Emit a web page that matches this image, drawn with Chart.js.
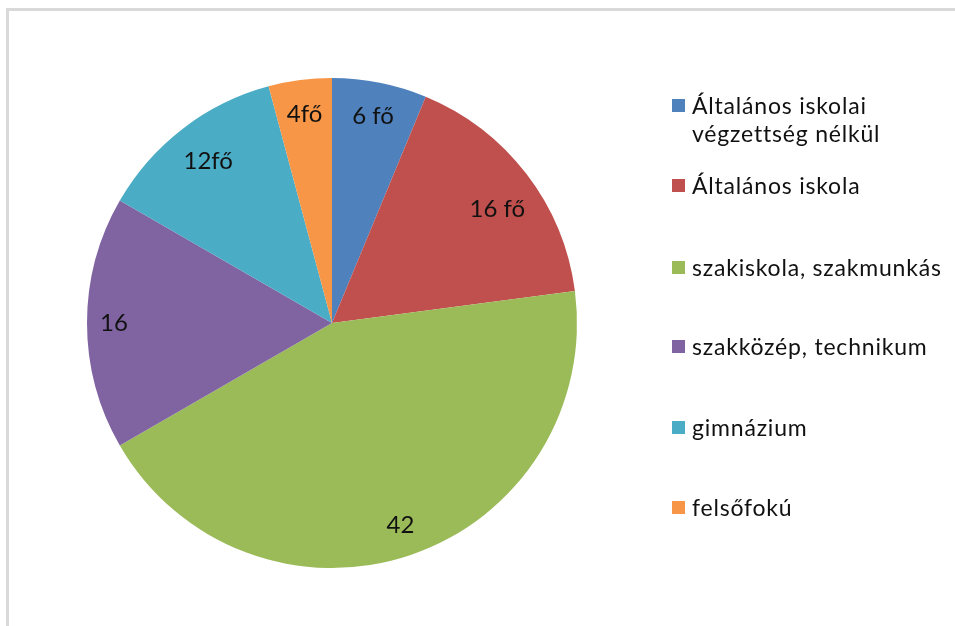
<!DOCTYPE html>
<html>
<head>
<meta charset="utf-8">
<script src="https://cdn.jsdelivr.net/npm/chart.js@4.4.1/dist/chart.umd.min.js"></script>
<style>
  html, body { margin: 0; padding: 0; background: #fff; }
  #wrap { position: relative; width: 955px; height: 626px; }
  #frame { position: absolute; left: 6px; top: 8px; right: 0; bottom: 0;
           border-left: 3px solid #d9d9d9; border-top: 3px solid #d9d9d9; }
  canvas { position: absolute; left: 0; top: 0; }
</style>
</head>
<body>
<div id="wrap">
  <div id="frame"></div>
  <canvas id="myChart" width="955" height="626"></canvas>
</div>
<script>
// végzettség szerinti megoszlás (fő)
const categories = [
    ['Általános iskolai', 'végzettség nélkül'],
    ['Általános iskola'],
    ['szakiskola, szakmunkás'],
    ['szakközép, technikum'],
    ['gimnázium'],
    ['felsőfokú']
];
const values = [6, 16, 42, 16, 12, 4];
const sliceLabels = ['6 fő', '16 fő', '42', '16', '12fő', '4fő'];
const colors = ['#4f81bd', '#c0504d', '#9bbb59', '#8064a2', '#4bacc6', '#f79646'];

const FONT = 'Lato, "Open Sans", sans-serif';

// feliratok a szeletekben (sugár aránya szeletenként)
const labelPlugin = {
    id: 'sliceLabels',
    afterDatasetsDraw(chart, args, opts){
        const ctx = chart.ctx;
        const meta = chart.getDatasetMeta(0);
        ctx.save();
        ctx.font = '24px ' + FONT;
        ctx.fillStyle = '#111';
        ctx.textAlign = 'center';
        ctx.textBaseline = 'middle';
        meta.data.forEach((arc, i) => {
            const p = arc.getProps(['x', 'y', 'startAngle', 'endAngle', 'outerRadius'], true);
            const mid = (p.startAngle + p.endAngle) / 2 + opts.shift[i];
            const r = p.outerRadius * opts.radius[i];
            ctx.fillText(sliceLabels[i], p.x + Math.cos(mid) * r, p.y + Math.sin(mid) * r);
        });
        ctx.restore();
    }
};

// jelmagyarázat jobb oldalt
const legendPlugin = {
    id: 'sideLegend',
    afterDraw(chart, args, opts){
        const ctx = chart.ctx;
        ctx.save();
        ctx.font = '23px ' + FONT;
        ctx.letterSpacing = '0.8px';
        ctx.textBaseline = 'alphabetic';
        ctx.textAlign = 'left';
        categories.forEach((lines, i) => {
            const y = opts.rows[i];
            ctx.fillStyle = colors[i];
            ctx.fillRect(opts.x, y - 7, 13, 13);
            ctx.fillStyle = '#111';
            lines.forEach((t, j) => ctx.fillText(t, opts.x + 20, y + 8 + j * 28));
        });
        ctx.restore();
    }
};

const ctx = document.getElementById('myChart').getContext('2d');
new Chart(ctx, {
    type: 'pie',
    data: {
        labels: categories.map(c => c.join(' ')),
        datasets: [{
            data: values,
            backgroundColor: colors,
            borderWidth: 0
        }]
    },
    options: {
        responsive: false,
        animation: false,
        layout: { padding: { left: 87, right: 378, top: 78, bottom: 58 } },
        plugins: {
            legend: { display: false },
            tooltip: { enabled: false },
            sliceLabels: {
                radius: [0.86, 0.82, 0.87, 0.89, 0.83, 0.86],
                shift: [0, 0.05, 0, 0, 0, 0]
            },
            sideLegend: { x: 672, rows: [106, 186, 268, 347, 428, 508] }
        }
    },
    plugins: [labelPlugin, legendPlugin]
});
</script>
</body>
</html>
